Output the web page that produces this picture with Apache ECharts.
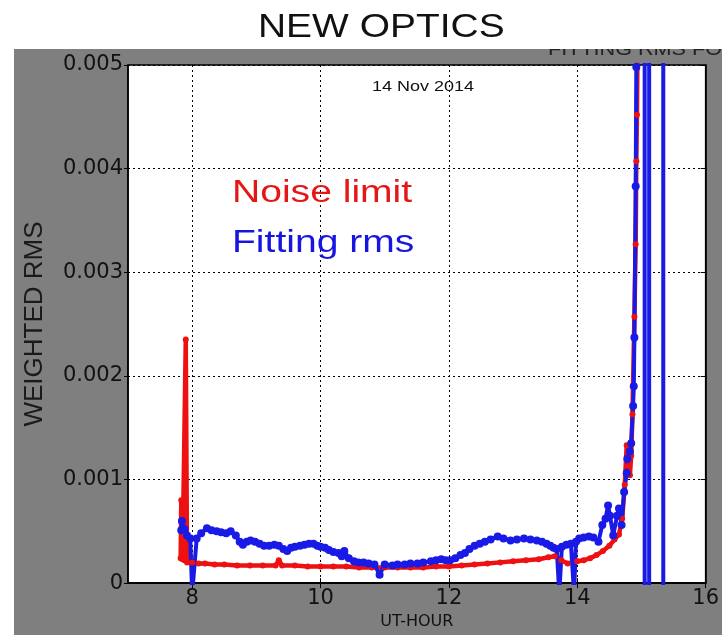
<!DOCTYPE html>
<html>
<head>
<meta charset="utf-8">
<script src="https://cdn.jsdelivr.net/npm/echarts@6/dist/echarts.min.js"></script>
<style>
  html, body { margin: 0; padding: 0; background: #fff; }
  #chart { width: 722px; height: 635px; }
</style>
</head>
<body>
<div id="chart"></div>
<script>
// UT hour vs weighted rms
const xTicks = [8, 10, 12, 14, 16];

const noiseLimit = [
  [7.82, 0.00024], [7.83, 0.0008], [7.85, 0.00023], [7.88, 0.00022], [7.9, 0.00235],
  [7.92, 0.0002], [8.0, 0.0002], [8.1, 0.00019], [8.2, 0.00019], [8.35, 0.00018],
  [8.5, 0.00018], [8.7, 0.00017], [8.9, 0.00017], [9.1, 0.00017], [9.3, 0.00017],
  [9.35, 0.00022], [9.4, 0.00017], [9.6, 0.00017], [9.8, 0.00016], [10.0, 0.00016],
  [10.2, 0.00016], [10.4, 0.00016], [10.6, 0.00015], [10.8, 0.00015], [11.0, 0.00015],
  [11.2, 0.00015], [11.4, 0.00015], [11.6, 0.00015], [11.8, 0.00016], [12.0, 0.00016],
  [12.2, 0.00017], [12.4, 0.00018], [12.6, 0.00019], [12.8, 0.0002], [13.0, 0.00021],
  [13.2, 0.00022], [13.4, 0.00023], [13.55, 0.00025], [13.65, 0.00026], [13.75, 0.00022],
  [13.85, 0.00019], [14.0, 0.00021], [14.1, 0.00022], [14.2, 0.00024], [14.3, 0.00027],
  [14.4, 0.00031], [14.5, 0.00036], [14.58, 0.00042], [14.65, 0.00047], [14.7, 0.00062],
  [14.74, 0.00095], [14.77, 0.00133], [14.78, 0.00113], [14.82, 0.00104], [14.84, 0.00123],
  [14.86, 0.00163], [14.89, 0.00257], [14.91, 0.00327], [14.92, 0.00407], [14.93, 0.00452],
  [14.95, 0.006]
];

const fittingRms = [
  [7.83, 0.00051], [7.84, 0.0006], [7.88, 0.00052], [7.92, 0.00046], [7.97, 0.00043],
  [8.0, -0.0001], [8.07, 0.00043], [8.14, 0.00048], [8.23, 0.00053], [8.3, 0.00051],
  [8.38, 0.0005], [8.45, 0.00049], [8.53, 0.00048], [8.6, 0.0005], [8.68, 0.00046],
  [8.74, 0.0004], [8.79, 0.00037], [8.85, 0.0004], [8.91, 0.00041], [8.98, 0.0004],
  [9.05, 0.00038], [9.12, 0.00036], [9.2, 0.00036], [9.28, 0.00037], [9.35, 0.00036],
  [9.42, 0.00033], [9.48, 0.00031], [9.54, 0.00034], [9.6, 0.00035], [9.68, 0.00036],
  [9.75, 0.00037], [9.82, 0.00038], [9.89, 0.00038], [9.95, 0.00036], [10.0, 0.00035],
  [10.07, 0.00034], [10.13, 0.00032], [10.2, 0.0003], [10.28, 0.00029], [10.33, 0.00026],
  [10.37, 0.00031], [10.44, 0.00024], [10.52, 0.00021], [10.59, 0.0002], [10.67, 0.0002],
  [10.75, 0.00019], [10.84, 0.00018], [10.92, 0.00008], [11.0, 0.00018], [11.12, 0.00017],
  [11.2, 0.00018], [11.31, 0.00018], [11.4, 0.00019], [11.51, 0.00019], [11.6, 0.0002],
  [11.72, 0.00021], [11.8, 0.00022], [11.88, 0.00023], [11.95, 0.00022], [12.02, 0.00022],
  [12.1, 0.00024], [12.18, 0.00027], [12.25, 0.00029], [12.32, 0.00033], [12.4, 0.00036],
  [12.48, 0.00038], [12.56, 0.0004], [12.65, 0.00042], [12.76, 0.00045], [12.85, 0.00043],
  [12.96, 0.00041], [13.06, 0.00042], [13.17, 0.00043], [13.27, 0.00042], [13.37, 0.00041],
  [13.45, 0.0004], [13.52, 0.00038], [13.58, 0.00036], [13.63, 0.00034], [13.68, 0.00033],
  [13.72, -0.0001], [13.76, 0.00035], [13.83, 0.00037], [13.9, 0.00038], [13.95, -0.0001],
  [13.98, 0.0004], [14.03, 0.00043], [14.1, 0.00044], [14.18, 0.00045], [14.25, 0.00044],
  [14.33, 0.0004], [14.39, 0.00056], [14.44, 0.00062], [14.48, 0.00075], [14.51, 0.00065],
  [14.56, 0.00046], [14.62, 0.00065], [14.65, 0.00072], [14.69, 0.00056], [14.73, 0.00088],
  [14.77, 0.00106], [14.78, 0.0012], [14.82, 0.00127], [14.84, 0.00135], [14.87, 0.00171],
  [14.88, 0.0019], [14.89, 0.00237], [14.91, 0.00383], [14.92, 0.00498], [14.93, 0.008],
  [15.05, 0.008], [15.05, -0.002], [15.12, -0.002], [15.12, 0.008], [15.34, 0.008],
  [15.34, -0.002]
];

const chart = echarts.init(document.getElementById('chart'));

const dotted = { color: '#000', width: 1, type: [2, 3] };
const font = 'Liberation Sans, Arial, sans-serif';

chart.setOption({
  animation: false,
  backgroundColor: '#fff',
  graphic: [
    { type: 'rect', z: -10, shape: { x: 14, y: 49, width: 708, height: 586 }, style: { fill: '#7f7f7f' } },
    { type: 'text', z: 1, x: 548, y: 41, scaleX: 1.2,
      style: { text: 'FITTING RMS FOR', fontSize: 18, fontFamily: font, fill: '#222' } },
    { type: 'rect', z: 2, shape: { x: 0, y: 0, width: 722, height: 49 }, style: { fill: '#fff' } },
    { type: 'text', z: 3, x: 258, y: 11, scaleX: 1.18,
      style: { text: 'NEW OPTICS', fontSize: 33, fontFamily: font, fill: '#111' } },
    { type: 'text', z: 5, x: 372, y: 79, scaleX: 1.2,
      style: { text: '14 Nov 2014', fontSize: 15, fontFamily: font, fill: '#111' } },
    { type: 'text', z: 5, x: 232, y: 178, scaleX: 1.26,
      style: { text: 'Noise limit', fontSize: 31, fontFamily: font, fill: '#e51616' } },
    { type: 'text', z: 5, x: 232, y: 228, scaleX: 1.26,
      style: { text: 'Fitting rms', fontSize: 31, fontFamily: font, fill: '#1616e0' } }
  ],
  grid: {
    left: 128, top: 65, right: 5, bottom: 50,
    show: true, backgroundColor: '#fff', borderColor: '#000', borderWidth: 1.5
  },
  xAxis: [{
    type: 'value', min: 7, max: 16,
    name: 'UT-HOUR', nameLocation: 'middle', nameGap: 27,
    nameTextStyle: { fontSize: 16, color: '#111', fontFamily: 'DejaVu Sans' },
    axisLine: { show: true, lineStyle: { color: '#000', width: 1.5 } },
    axisTick: { show: true, inside: true, length: 5, customValues: xTicks, lineStyle: { color: '#000' } },
    axisLabel: { customValues: xTicks, fontSize: 21, color: '#111', fontFamily: 'DejaVu Sans', margin: 5 },
    splitLine: { show: true, lineStyle: dotted }
  }, {
    type: 'value', min: 7, max: 16, position: 'top',
    axisLine: { show: true, lineStyle: { color: '#000', width: 1.5 } },
    axisTick: { show: true, inside: true, length: 5, customValues: xTicks, lineStyle: { color: '#000' } },
    axisLabel: { show: false },
    splitLine: { show: false }
  }],
  yAxis: [{
    type: 'value', min: 0, max: 0.005, interval: 0.001,
    name: 'WEIGHTED RMS', nameLocation: 'middle', nameGap: 80,
    nameTextStyle: { fontSize: 26, color: '#1a1a1a', fontFamily: font },
    axisLine: { show: true, lineStyle: { color: '#000', width: 1.5 } },
    axisTick: { show: true, length: 4, lineStyle: { color: '#000' } },
    axisLabel: {
      fontSize: 21, color: '#111', fontFamily: 'DejaVu Sans', margin: 5,
      formatter: v => (v === 0 ? '0' : v.toFixed(3))
    },
    splitLine: { show: true, lineStyle: dotted }
  }, {
    type: 'value', min: 0, max: 0.005, interval: 0.001, position: 'right',
    axisLine: { show: true, lineStyle: { color: '#000', width: 1.5 } },
    axisTick: { show: true, inside: true, length: 5, lineStyle: { color: '#000' } },
    axisLabel: { show: false },
    splitLine: { show: false }
  }],
  series: [
    {
      name: 'Noise limit', type: 'line', data: noiseLimit, clip: true,
      symbol: 'circle', symbolSize: 6, showSymbol: true,
      itemStyle: { color: '#ee1111' },
      lineStyle: { color: '#ee1111', width: 4.5 }
    },
    {
      name: 'Fitting rms', type: 'line', data: fittingRms, clip: true,
      symbol: 'circle', symbolSize: 8, showSymbol: true,
      itemStyle: { color: '#1a1ae6' },
      lineStyle: { color: '#1a1ae6', width: 4 }
    }
  ]
});
</script>
</body>
</html>
